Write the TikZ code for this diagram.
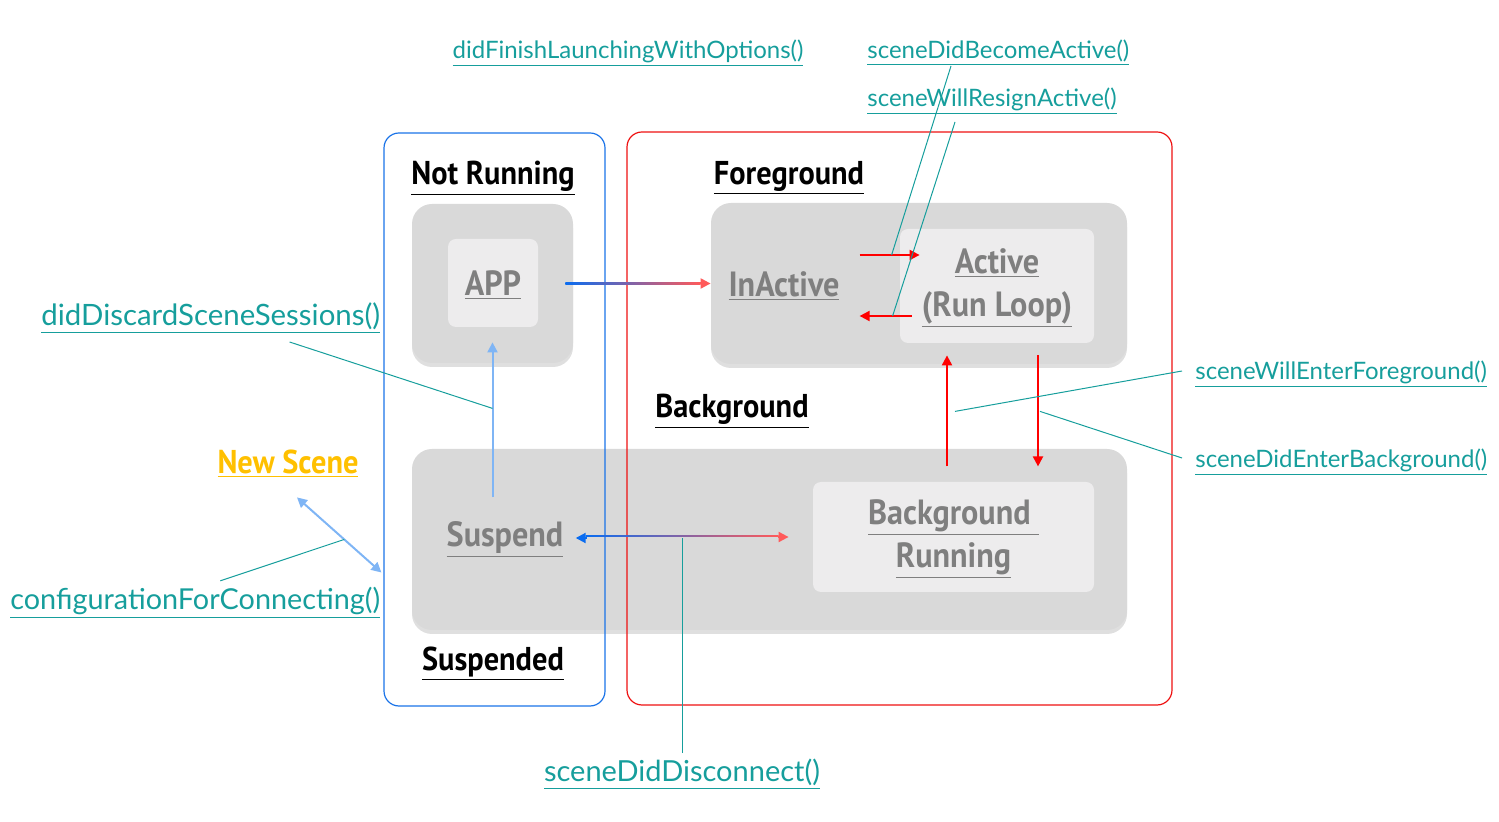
\documentclass[tikz,border=0pt]{standalone}
\usepackage{fontspec}
\setmainfont{Lato}
\newfontfamily\titlefont[FakeStretch=0.92]{PT Sans}
\usetikzlibrary{calc, positioning, arrows.meta, shadows}

\definecolor{frameblue}{HTML}{1A73E8}
\definecolor{framered}{HTML}{EE1111}
\definecolor{boxgray}{HTML}{D9D9D9}
\definecolor{innergray}{HTML}{EDECED}
\definecolor{stategray}{HTML}{7F7F7F}
\definecolor{callteal}{HTML}{169E9C}
\definecolor{sceneorange}{HTML}{FFC000}
\definecolor{lightblue}{HTML}{7FB5F5}
\definecolor{arrowblue}{HTML}{0A6CF0}
\definecolor{arrowred}{HTML}{FF0000}
\definecolor{softred}{HTML}{FF5A5A}

\newcommand{\ul}[1]{\underline{#1}}

\begin{document}
\begin{tikzpicture}[x=0.5pt, y=-0.5pt,
        outerbox/.style={rectangle, rounded corners=10pt, fill=boxgray, inner sep=0pt,
            drop shadow={shadow xshift=0pt, shadow yshift=-2pt, opacity=0.25}},
        innerbox/.style={rectangle, rounded corners=4pt, fill=innergray, inner sep=0pt},
        frame/.style={rectangle, rounded corners=7.5pt, draw, line width=0.6pt, inner sep=0pt},
        title/.style={font=\titlefont\bfseries\fontsize{16.5}{19}\selectfont, text=black, inner sep=0pt},
        state/.style={font=\titlefont\bfseries\fontsize{17.5}{21.5}\selectfont, text=stategray, align=center, inner sep=0pt},
        call/.style={font=\fontsize{12}{14}\selectfont, text=callteal, inner sep=0pt},
        leader/.style={callteal, line width=0.5pt},
        redarrow/.style={arrowred, line width=1pt, -{Triangle[length=5pt, width=5pt]}},
        lightarrow/.style={lightblue, line width=1pt, -{Triangle[length=5pt, width=5pt]}}]
        \useasboundingbox (0,0) rectangle (1499,822);

        % state boxes
        \node (appbox) [outerbox, minimum width=80.5pt, minimum height=79.5pt] at (492.5,283.5) {};
        \node (fgbox) [outerbox, minimum width=208pt, minimum height=80.5pt] at (919,283.5) {};
        \node (suspbox) [outerbox, minimum width=357.5pt, minimum height=90.5pt] at (769.5,539.5) {};
        \node (app) [innerbox, minimum width=45pt, minimum height=44pt] at (493,283) {};
        \node (active) [innerbox, minimum width=97pt, minimum height=57pt] at (997,286) {};
        \node (bgrun) [innerbox, minimum width=140.5pt, minimum height=55pt] at (953.5,537) {};

        \node [state] at ($(app)+(0,2)$) {\ul{APP}};
        \node (inact) [state] at (784,286) {\ul{InActive}};
        \node [state] at ($(active)+(0,2)$) {\ul{Active}\\\ul{(Run Loop)}};
        \node (susp) [state] at (505,540) {\ul{Suspend}};
        \node [state] at ($(bgrun)+(0,2)$) {\ul{Background }\\\ul{Running}};

        % frames
        \node (notrun) [frame, draw=frameblue, minimum width=110.5pt, minimum height=286.5pt] at (494.5,419.5) {};
        \node (running) [frame, draw=framered, minimum width=272.5pt, minimum height=286.5pt] at (899.5,418.5) {};

        \node [title] at (493,178) {\ul{Not Running}};
        \node [title] at (789,178) {\ul{Foreground}};
        \node [title] at (732,411) {\ul{Background}};
        \node [title] at (493,664) {\ul{Suspended}};
        \node (newscene) [title, text=sceneorange] at (288,464) {\ul{New Scene}};

        % launch and suspend transitions
        \shade[left color=arrowblue, right color=softred] ($(appbox.east)+(-8,-1)$) rectangle ($(fgbox.west)+(-10,1)$);
        \draw[-{Triangle[length=5pt, width=5pt]}, softred, line width=1pt] ($(fgbox.west)+(-11,0)$) -- (fgbox.west);
        \shade[left color=arrowblue, right color=softred] ($(susp.east)+(22,-3)$) rectangle ($(bgrun.west)+(-34,-1)$);
        \draw[-{Triangle[length=5pt, width=5pt]}, arrowblue, line width=1pt] ($(susp.east)+(23,-2)$) -- ($(susp.east)+(12,-2)$);
        \draw[-{Triangle[length=5pt, width=5pt]}, softred, line width=1pt] ($(bgrun.west)+(-35,0)$) -- ($(bgrun.west)+(-24,0)$);

        % foreground transitions
        \draw[redarrow] ($(active.west)+(-40,-31)$) -- ($(active.west)+(20,-31)$);
        \draw[redarrow] ($(active.west)+(12,30)$) -- ($(active.west)+(-40,30)$);
        \draw[redarrow] ($(active.south)+(-50,123)$) -- ($(active.south)+(-50,12)$);
        \draw[redarrow] ($(active.south)+(41,12)$) -- ($(active.south)+(41,123)$);

        \draw[lightarrow] ($(appbox.south)+(0,134)$) -- ($(appbox.south)+(0,-21)$);
        \coordinate (sceneend) at ($(notrun.west)+(-2,153)$);
        \coordinate (scenestart) at ($(newscene.south)+(9,19)$);
        \draw[lightarrow, {Triangle[length=5pt, width=5pt]}-{Triangle[length=5pt, width=5pt]}] (scenestart) -- (sceneend);

        % delegate calls
        \node (launch) [call] at (628,53) {\ul{didFinishLaunchingWithOptions()}};
        \node (become) [call, anchor=west] at (867,53) {\ul{sceneDidBecomeActive()}};
        \node (resign) [call, anchor=west] at (867,101) {\ul{sceneWillResignActive()}};
        \node (discard) [call, font=\fontsize{14.7}{16}\selectfont, anchor=west] at (41,318) {\ul{didDiscardSceneSessions()}};
        \node (config) [call, font=\fontsize{14.4}{16}\selectfont, anchor=west] at (10,603) {\ul{configurationForConnecting()}};
        \node (disconnect) [call, font=\fontsize{14.5}{16}\selectfont] at (682,774) {\ul{sceneDidDisconnect()}};
        \node (enterfg) [call, anchor=west] at (1195,374) {\ul{sceneWillEnterForeground()}};
        \node (enterbg) [call, anchor=west] at (1195,462) {\ul{sceneDidEnterBackground()}};

        \draw[leader] ($(become.west)+(84,13)$) -- ($(active.west)+(-8,-31)$);
        \draw[leader] ($(resign.west)+(88,21)$) -- ($(active.west)+(-7,30)$);
        \draw[leader] ($(discard.east)+(-91,24)$) -- ($(appbox.south)+(0,45)$);
        \draw[leader] ($(config.north)+(25,-6)$) -- ($(scenestart)!0.56!(sceneend)$);
        \draw[leader] ($(disconnect.north)+(0,-5)$) -- ($(disconnect.north |- susp.east)+(0,-2)$);
        \draw[leader] ($(enterfg.west)+(-13,-3)$) -- ($(active.south)+(-42,68)$);
        \draw[leader] ($(enterbg.west)+(-13,-4)$) -- ($(active.south)+(43,68)$);
\end{tikzpicture}
\end{document}
